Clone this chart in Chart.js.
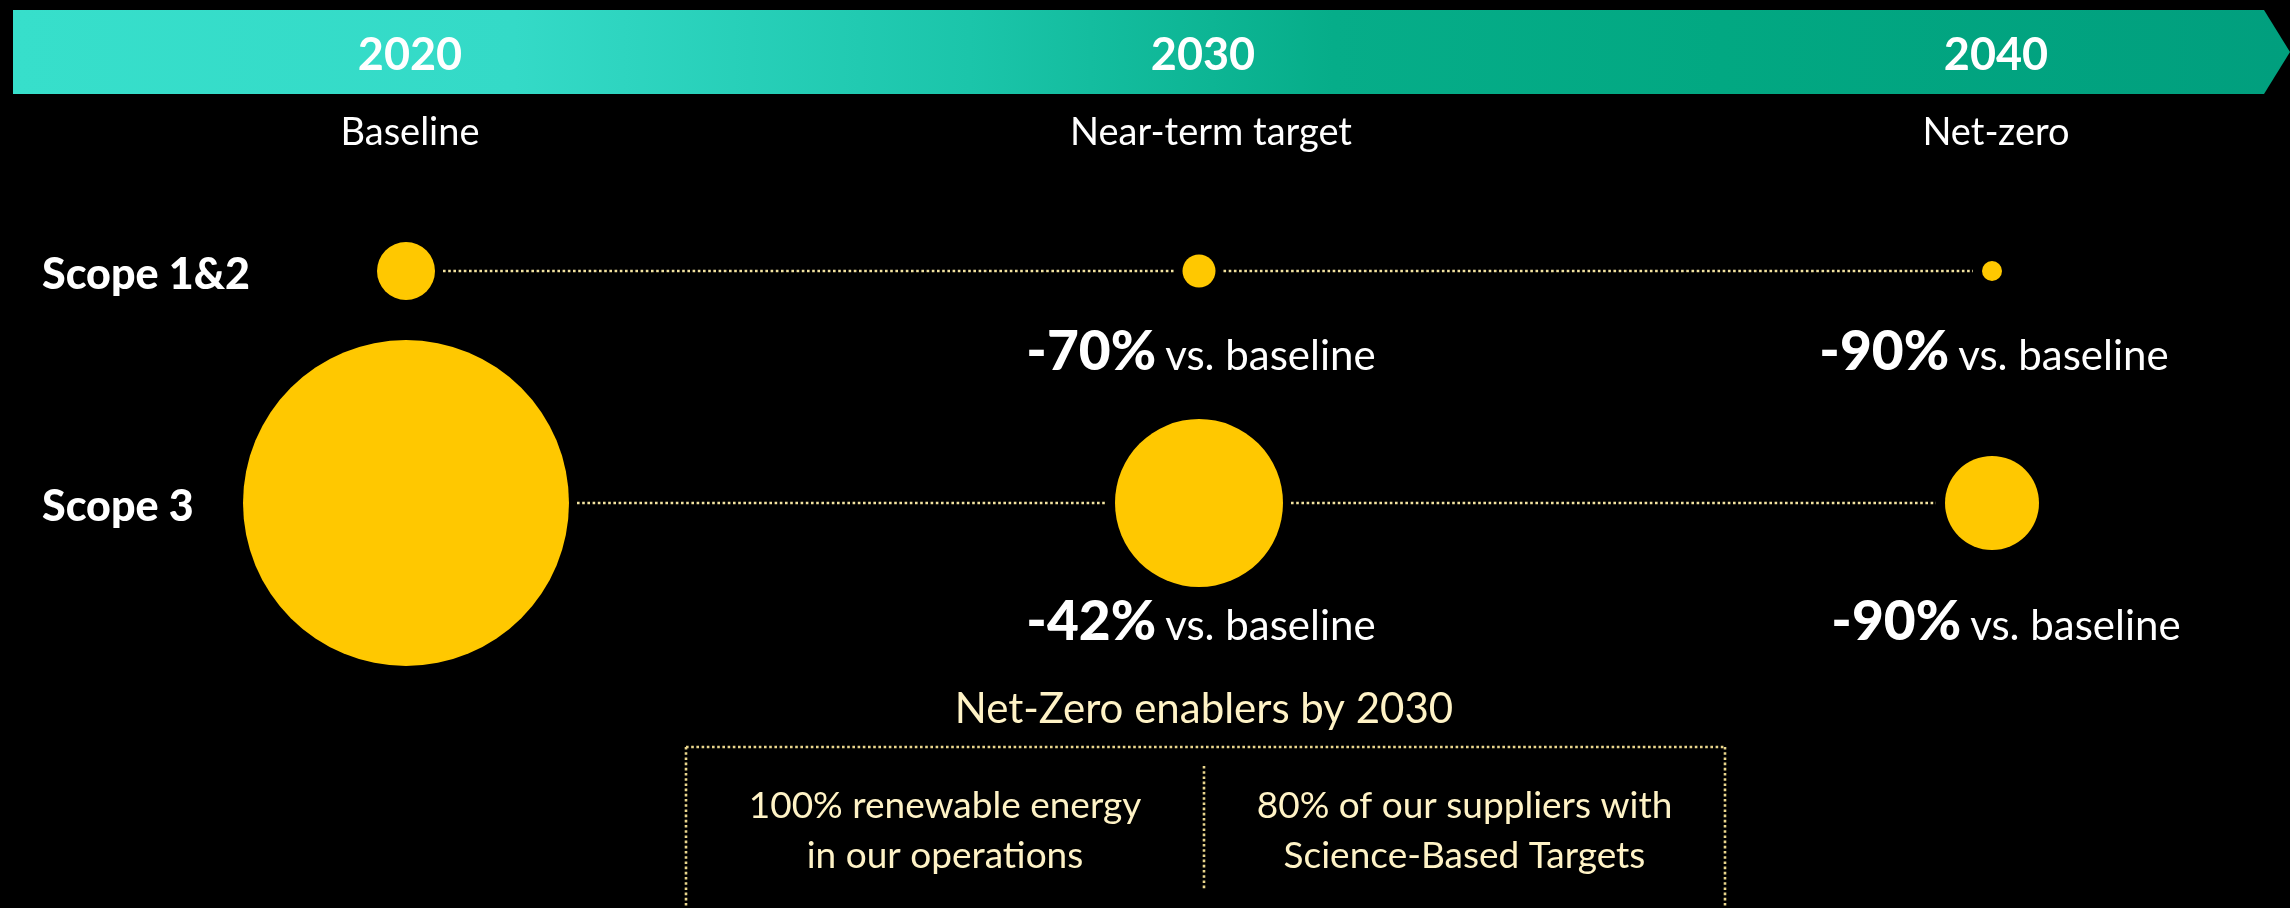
<!DOCTYPE html>
<html>
<head>
<meta charset="utf-8">
<title>Net-zero pathway</title>
<script src="https://cdn.jsdelivr.net/npm/chart.js@4.4.1/dist/chart.umd.min.js"></script>
<style>
  html, body { margin: 0; padding: 0; background: #000; }
  #chart { display: block; }
</style>
</head>
<body>
<canvas id="chart" width="2290" height="908"></canvas>
<script>
// timeline + two emission scopes
const years = ['2020', '2030', '2040'];
const milestones = ['Baseline', 'Near-term target', 'Net-zero'];
const scopes = ['Scope 1&2', 'Scope 3'];

// bubble sizes
const scope12Size = [29, 16.5, 10];
const scope3Size = [163, 84, 47];

const scope12Change = [null, '-70%', '-90%'];
const scope3Change = [null, '-42%', '-90%'];
const changeSuffix = 'vs. baseline';

const enablersTitle = 'Net-Zero enablers by 2030';
const enablers = [
  ['100% renewable energy', 'in our operations'],
  ['80% of our suppliers with', 'Science-Based Targets']
];

const FONT = 'Lato, "Open Sans", sans-serif';
const YELLOW = '#ffc800';
const DOTS = '#f3e3a0';
const CREAM = '#fff3c6';

function dotted(ctx, x1, y1, x2, y2, color){
  ctx.save();
  ctx.strokeStyle = color;
  ctx.lineWidth = 2.6;
  ctx.setLineDash([2.6, 2.6]);
  ctx.beginPath();
  ctx.moveTo(x1, y1);
  ctx.lineTo(x2, y2);
  ctx.stroke();
  ctx.restore();
}

const decor = {
  id: 'decor',
  beforeDraw(chart){
    const ctx = chart.ctx;
    ctx.save();
    ctx.fillStyle = '#000';
    ctx.fillRect(0, 0, chart.width, chart.height);

    // banner arrow
    const g = ctx.createLinearGradient(13, 0, 2290, 0);
    g.addColorStop(0, '#37dfcb');
    g.addColorStop(0.22, '#34dac7');
    g.addColorStop(0.42, '#1bc5aa');
    g.addColorStop(0.58, '#06ad89');
    g.addColorStop(0.75, '#02a882');
    g.addColorStop(1, '#019f7e');
    ctx.fillStyle = g;
    ctx.beginPath();
    ctx.moveTo(13, 10);
    ctx.lineTo(2264, 10);
    ctx.lineTo(2290, 52);
    ctx.lineTo(2264, 94);
    ctx.lineTo(13, 94);
    ctx.closePath();
    ctx.fill();
    ctx.restore();
  },
  beforeDatasetsDraw(chart){
    const ctx = chart.ctx;
    const x = chart.scales.x, y = chart.scales.y;
    [scope12Size, scope3Size].forEach((sizes, row) => {
      const py = y.getPixelForValue(row);
      for (let i = 0; i < years.length - 1; i++) {
        const a = x.getPixelForValue(i) + sizes[i] + 8;
        const b = x.getPixelForValue(i + 1) - sizes[i + 1] - 9;
        dotted(ctx, a, py, b, py, DOTS);
      }
    });
  },
  afterDatasetsDraw(chart){
    const ctx = chart.ctx;
    const x = chart.scales.x, y = chart.scales.y;
    ctx.save();
    ctx.fillStyle = '#fff';
    ctx.textAlign = 'center';
    ctx.textBaseline = 'alphabetic';

    years.forEach((yr, i) => {
      const px = x.getPixelForValue(i) + 4;
      ctx.font = `700 45px ${FONT}`;
      ctx.fillText(yr, px, 70);
      ctx.font = `400 38px ${FONT}`;
      ctx.fillText(milestones[i], px + (i === 1 ? 8 : 0), 145);
    });

    // row labels
    ctx.textAlign = 'left';
    ctx.font = `900 43px ${FONT}`;
    scopes.forEach((s, row) => {
      ctx.fillText(s, 42, y.getPixelForValue(row) + 18);
    });

    // change vs baseline
    const offsets = [99, 137];
    [scope12Change, scope3Change].forEach((list, row) => {
      const base = y.getPixelForValue(row) + offsets[row];
      list.forEach((val, i) => {
        if (!val) return;
        const cx = x.getPixelForValue(i) + (row === 1 && i === 2 ? 12 : 0) + 2;
        ctx.font = `900 55px ${FONT}`;
        const w1 = ctx.measureText(val).width;
        ctx.font = `400 42px ${FONT}`;
        const w2 = ctx.measureText(changeSuffix).width;
        const gap = 9;
        const left = cx - (w1 + gap + w2) / 2;
        ctx.textAlign = 'left';
        ctx.font = `900 55px ${FONT}`;
        ctx.fillText(val, left, base);
        ctx.font = `400 42px ${FONT}`;
        ctx.fillText(changeSuffix, left + w1 + gap, base);
      });
    });

    // enablers box
    const mid = x.getPixelForValue(1) + 5;
    ctx.fillStyle = CREAM;
    ctx.textAlign = 'center';
    ctx.font = `400 42px ${FONT}`;
    ctx.fillText(enablersTitle, mid, 723);

    const boxL = 686, boxR = 1725, boxT = 747;
    dotted(ctx, boxL, boxT, boxR, boxT, '#e9d58c');
    dotted(ctx, boxL, boxT, boxL, 910, '#e9d58c');
    dotted(ctx, boxR, boxT, boxR, 910, '#e9d58c');
    dotted(ctx, mid, 766, mid, 890, '#e9d58c');

    ctx.font = `400 37px ${FONT}`;
    const cols = [(boxL + mid) / 2, (mid + boxR) / 2];
    enablers.forEach((lines, c) => {
      lines.forEach((t, k) => ctx.fillText(t, cols[c], 818 + k * 50));
    });
    ctx.restore();
  }
};

const pts = (sizes, scope) => sizes.map((r, i) => ({ x: years[i], y: scope, r }));

new Chart(document.getElementById('chart'), {
  type: 'bubble',
  data: {
    datasets: [
      { label: scopes[0], data: pts(scope12Size, scopes[0]), backgroundColor: YELLOW, borderWidth: 0, hoverRadius: 0, clip: false },
      { label: scopes[1], data: pts(scope3Size, scopes[1]), backgroundColor: YELLOW, borderWidth: 0, hoverRadius: 0, clip: false }
    ]
  },
  options: {
    responsive: false,
    animation: false,
    events: [],
    layout: { padding: { left: 406, right: 298, top: 271, bottom: 405 } },
    scales: {
      x: { type: 'category', labels: years, offset: false, display: false },
      y: { type: 'category', labels: scopes, offset: false, display: false }
    },
    plugins: { legend: { display: false }, tooltip: { enabled: false } }
  },
  plugins: [decor]
});
</script>
</body>
</html>
